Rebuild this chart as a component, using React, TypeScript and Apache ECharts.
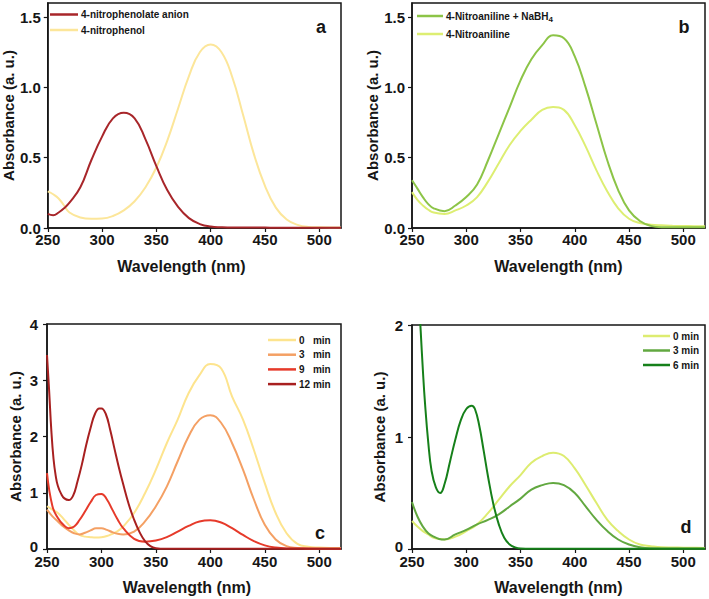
import React, { useEffect, useRef } from "react";
import * as echarts from "echarts";

// ---------- Panel a ----------
const WL_A = [250, 255, 260, 265, 270, 280, 290, 300, 310, 320, 330, 340, 350, 360, 370, 380, 390, 400, 410, 420, 430, 440, 450, 460, 470, 480, 490, 500, 510, 520];
const A_ANION = [0.1, 0.09, 0.11, 0.14, 0.18, 0.29, 0.48, 0.65, 0.78, 0.82, 0.78, 0.63, 0.44, 0.27, 0.15, 0.07, 0.028, 0.01, 0.005, 0.003, 0.003, 0.003, 0.003, 0.002, 0.002, 0.002, 0.002, 0.002, 0.002, 0.002];
const A_PHENOL = [0.26, 0.24, 0.21, 0.16, 0.11, 0.075, 0.065, 0.067, 0.085, 0.125, 0.19, 0.29, 0.43, 0.62, 0.85, 1.08, 1.25, 1.305, 1.25, 1.07, 0.8, 0.52, 0.3, 0.145, 0.06, 0.022, 0.008, 0.005, 0.004, 0.004];

// ---------- Panel b ----------
const WL_B = [250, 255, 260, 265, 270, 280, 290, 300, 310, 320, 330, 340, 350, 360, 370, 380, 390, 400, 410, 420, 430, 440, 450, 460, 470, 480, 490, 500, 510, 520];
const B_NABH4 = [0.34, 0.28, 0.22, 0.17, 0.14, 0.12, 0.16, 0.22, 0.31, 0.48, 0.67, 0.86, 1.05, 1.2, 1.3, 1.37, 1.35, 1.22, 1.0, 0.74, 0.48, 0.27, 0.125, 0.05, 0.015, 0.005, 0.005, 0.005, 0.005, 0.005];
const B_ANILINE = [0.255, 0.2, 0.16, 0.13, 0.11, 0.1, 0.125, 0.16, 0.22, 0.33, 0.46, 0.59, 0.69, 0.77, 0.84, 0.86, 0.84, 0.73, 0.58, 0.41, 0.26, 0.14, 0.066, 0.035, 0.024, 0.019, 0.016, 0.014, 0.013, 0.012];

// ---------- Panel c ----------
const WL_C = [250, 255, 260, 265, 270, 275, 280, 285, 290, 295, 300, 305, 310, 315, 320, 330, 340, 350, 360, 370, 380, 390, 400, 410, 420, 430, 440, 450, 460, 470, 480, 490, 500, 510, 520];
const C_0 = [0.76, 0.7, 0.64, 0.54, 0.43, 0.33, 0.25, 0.22, 0.21, 0.205, 0.21, 0.23, 0.27, 0.32, 0.4, 0.64, 0.99, 1.41, 1.88, 2.3, 2.77, 3.09, 3.29, 3.21, 2.71, 2.3, 1.76, 1.17, 0.64, 0.28, 0.09, 0.04, 0.025, 0.02, 0.02];
const C_3 = [0.7, 0.58, 0.49, 0.4, 0.33, 0.28, 0.26, 0.29, 0.33, 0.37, 0.37, 0.34, 0.3, 0.27, 0.26, 0.31, 0.49, 0.76, 1.11, 1.56, 2.0, 2.3, 2.38, 2.24, 1.88, 1.41, 0.88, 0.43, 0.17, 0.05, 0.02, 0.012, 0.01, 0.01, 0.01];
const C_9 = [1.35, 0.76, 0.55, 0.43, 0.37, 0.4, 0.52, 0.67, 0.83, 0.96, 0.98, 0.88, 0.7, 0.52, 0.37, 0.18, 0.13, 0.15, 0.21, 0.31, 0.41, 0.49, 0.51, 0.47, 0.37, 0.25, 0.14, 0.065, 0.025, 0.01, 0.008, 0.006, 0.005, 0.005, 0.005];
const WL_C12 = [250, 252, 254, 256, 258, 260, 263, 266, 270, 274, 278, 282, 286, 290, 294, 298, 300, 304, 308, 312, 316, 320, 325, 330, 335, 340, 345, 350, 360, 380, 400, 450, 500, 520];
const C_12 = [3.45, 2.8, 2.1, 1.6, 1.3, 1.12, 0.98, 0.9, 0.87, 0.95, 1.2, 1.5, 1.85, 2.15, 2.4, 2.5, 2.5, 2.4, 2.12, 1.78, 1.45, 1.15, 0.8, 0.52, 0.3, 0.14, 0.05, 0.015, 0.005, 0.003, 0.003, 0.003, 0.003, 0.003];

// ---------- Panel d ----------
const WL_D = [250, 255, 260, 265, 270, 275, 280, 290, 300, 310, 320, 330, 340, 350, 360, 370, 380, 390, 400, 410, 420, 430, 440, 450, 460, 470, 480, 490, 500, 510, 520];
const D_0 = [0.25, 0.2, 0.16, 0.13, 0.1, 0.09, 0.085, 0.11, 0.16, 0.22, 0.32, 0.44, 0.56, 0.66, 0.77, 0.83, 0.86, 0.83, 0.72, 0.57, 0.41, 0.26, 0.16, 0.085, 0.04, 0.025, 0.015, 0.013, 0.012, 0.011, 0.01];
const D_3 = [0.42, 0.29, 0.2, 0.14, 0.11, 0.09, 0.085, 0.13, 0.17, 0.22, 0.26, 0.31, 0.38, 0.45, 0.53, 0.57, 0.59, 0.57, 0.5, 0.38, 0.26, 0.16, 0.085, 0.04, 0.015, 0.006, 0.005, 0.005, 0.005, 0.005, 0.005];
const WL_D6 = [254, 256, 258, 260, 262, 265, 268, 272, 276, 280, 285, 290, 295, 300, 305, 308, 312, 316, 320, 325, 330, 335, 340, 345, 350, 360, 400, 450, 500, 520];
const D_6 = [2.8, 2.3, 1.95, 1.6, 1.3, 0.95, 0.7, 0.55, 0.5, 0.58, 0.78, 0.98, 1.15, 1.25, 1.28, 1.25, 1.1, 0.88, 0.65, 0.4, 0.22, 0.1, 0.04, 0.015, 0.005, 0.003, 0.003, 0.003, 0.003, 0.003];

const X_MIN = 250;
const X_MAX = 520;

const FONT = '"Liberation Sans", Arial, Helvetica, sans-serif';
const INK = "#161616";

const zip = (xs: number[], ys: number[]) => xs.map((x, i) => [x, ys[i]]);

const GRIDS = [
  { left: 47, top: 3, width: 294, height: 225 },
  { left: 412, top: 3, width: 293, height: 225 },
  { left: 47, top: 324, width: 294, height: 225 },
  { left: 412, top: 325, width: 293, height: 224 },
];

// horizontal shift of each x-axis title (reference titles a and c sit left of centre)
const X_TITLE_PAD = [26, 0, 14, 0];
const X_LABEL_MARGIN = [5, 5, 6, 6];

function xAxisFor(i: number) {
  return {
    type: "value",
    gridIndex: i,
    min: X_MIN,
    max: X_MAX,
    interval: 50,
    name: "Wavelength (nm)",
    nameLocation: "middle",
    nameGap: 30,
    nameTextStyle: { fontSize: 16, fontWeight: "bold", color: INK, fontFamily: FONT, padding: [0, X_TITLE_PAD[i], 0, 0] },
    axisLine: { show: true, onZero: false, lineStyle: { color: INK, width: 1.5 } },
    axisTick: { show: true, inside: false, length: 4, lineStyle: { color: INK, width: 1.2 } },
    axisLabel: { fontSize: 15, fontWeight: "bold", color: INK, margin: X_LABEL_MARGIN[i], lineHeight: 12, fontFamily: FONT, showMaxLabel: false },
    splitLine: { show: false },
  };
}

function yAxisFor(i: number, max: number, interval: number, decimals: number, gap: number, margin: number, liftZero: boolean) {
  return {
    type: "value",
    gridIndex: i,
    min: 0,
    max,
    interval,
    name: "Absorbance (a. u.)",
    nameLocation: "middle",
    nameGap: gap,
    nameTextStyle: { fontSize: 15, fontWeight: "bold", color: INK, fontFamily: FONT },
    axisLine: { show: true, onZero: false, lineStyle: { color: INK, width: 1.5 } },
    axisTick: { show: true, inside: false, length: 4, lineStyle: { color: INK, width: 1.2 } },
    axisLabel: {
      fontSize: 15,
      fontWeight: "bold",
      color: INK,
      margin,
      lineHeight: 10,
      fontFamily: FONT,
      showMaxLabel: max % interval === 0,
      formatter: (v: number) => (liftZero && v === 0 ? "{z|" + v.toFixed(decimals) + "}" : v.toFixed(decimals)),
      rich: {
        z: { fontSize: 15, fontWeight: "bold", color: INK, fontFamily: FONT, lineHeight: 10, padding: [0, 0, 5, 0] },
      },
    },
    splitLine: { show: false },
  };
}

function line(name: string, idx: number, xs: number[], ys: number[], color: string) {
  return {
    type: "line",
    name,
    xAxisIndex: idx,
    yAxisIndex: idx,
    data: zip(xs, ys),
    showSymbol: false,
    symbol: "none",
    smooth: 0.45,
    clip: true,
    lineStyle: { width: 2, color },
    itemStyle: { color },
  };
}

const legendText = (size: number, lh: number, extra: any = {}) => ({
  fontSize: size,
  fontWeight: "bold",
  color: INK,
  fontFamily: FONT,
  lineHeight: lh,
  ...extra,
});

const panelLabel = (text: string, x: number, y: number) => ({
  type: "text",
  x,
  y,
  style: { text, fontSize: 18, fontWeight: "bold", fontFamily: FONT, fill: INK, align: "center", verticalAlign: "middle" },
});

export default function App() {
  const ref = useRef<HTMLDivElement>(null);
  useEffect(() => {
    if (!ref.current) return;
    const chart = echarts.init(ref.current, null, { renderer: "svg" });
    const option: any = {
      animation: false,
      backgroundColor: "#ffffff",
      grid: GRIDS.map((g) => ({ ...g, show: true, borderColor: INK, borderWidth: 1.5, containLabel: false })),
      xAxis: [0, 1, 2, 3].map(xAxisFor),
      yAxis: [
        yAxisFor(0, 1.6, 0.5, 1, 30, 7, false),
        yAxisFor(1, 1.6, 0.5, 1, 30, 7, false),
        yAxisFor(2, 4, 1, 0, 24, 9, true),
        yAxisFor(3, 2, 1, 0, 25, 9, true),
      ],
      legend: [
        {
          orient: "vertical",
          left: 50,
          top: 8,
          padding: 0,
          itemGap: 2.5,
          itemWidth: 28,
          itemHeight: 2.5,
          icon: "rect",
          selectedMode: false,
          data: ["4-nitrophenolate anion", "4-nitrophenol"],
          textStyle: legendText(10, 13, { padding: [0, 0, 0, -2] }),
        },
        {
          orient: "vertical",
          left: 417,
          top: 8,
          padding: 0,
          itemGap: 2,
          itemWidth: 26,
          itemHeight: 2.5,
          icon: "rect",
          selectedMode: false,
          data: ["4-Nitroaniline + NaBH4", "4-Nitroaniline"],
          formatter: (n: string) => (n === "4-Nitroaniline + NaBH4" ? "4-Nitroaniline + NaBH{sub|4}" : n),
          textStyle: legendText(10, 16, {
            padding: [0, 0, 0, -2],
            rich: { sub: { fontSize: 8, fontWeight: "bold", fontFamily: FONT, color: INK, padding: [6, 0, 0, 0] } },
          }),
        },
        {
          orient: "vertical",
          left: 268,
          top: 334,
          padding: 0,
          itemGap: 2.7,
          itemWidth: 28,
          itemHeight: 2.5,
          icon: "rect",
          selectedMode: false,
          data: ["0   min", "3   min", "9   min", "12 min"],
          textStyle: legendText(10, 12, { padding: [0, 0, 0, -2] }),
        },
        {
          orient: "vertical",
          left: 643,
          top: 330,
          padding: 0,
          itemGap: 2.5,
          itemWidth: 27,
          itemHeight: 2.5,
          icon: "rect",
          selectedMode: false,
          data: ["0 min", "3 min", "6 min"],
          textStyle: legendText(10, 12, { padding: [0, 0, 0, -2] }),
        },
      ],
      graphic: [panelLabel("a", 321, 27), panelLabel("b", 684, 27), panelLabel("c", 320, 533), panelLabel("d", 686, 527)],
      series: [
        line("4-nitrophenol", 0, WL_A, A_PHENOL, "#FCE69A"),
        line("4-nitrophenolate anion", 0, WL_A, A_ANION, "#A8262A"),
        line("4-Nitroaniline", 1, WL_B, B_ANILINE, "#DDEE72"),
        line("4-Nitroaniline + NaBH4", 1, WL_B, B_NABH4, "#8CC447"),
        line("0   min", 2, WL_C, C_0, "#FDE48E"),
        line("3   min", 2, WL_C, C_3, "#F4A064"),
        line("9   min", 2, WL_C, C_9, "#E63A2A"),
        line("12 min", 2, WL_C12, C_12, "#A82020"),
        line("0 min", 3, WL_D, D_0, "#DDEC70"),
        line("3 min", 3, WL_D, D_3, "#62A840"),
        line("6 min", 3, WL_D6, D_6, "#16801A"),
      ],
    };
    chart.setOption(option);
    return () => chart.dispose();
  }, []);
  return <div ref={ref} style={{ position: "absolute", left: 0, top: 0, width: 709, height: 599 }} />;
}
